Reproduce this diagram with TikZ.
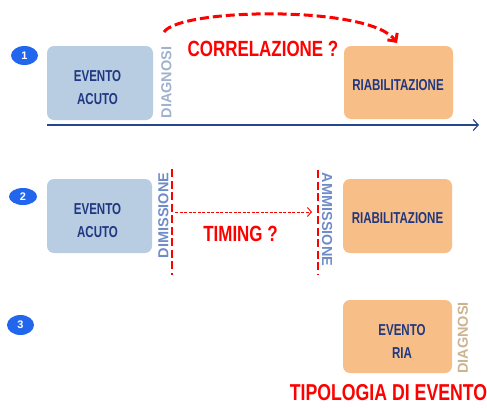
\documentclass[tikz,border=0pt]{standalone}
\usepackage{fontspec}
\setmainfont{Liberation Sans}
\newfontfamily\boxf{Liberation Sans}[FakeStretch=0.73]
\newfontfamily\redf{Liberation Sans}[FakeStretch=0.77]
\usetikzlibrary{arrows.meta,shapes.geometric}
\definecolor{boxblue}{RGB}{184,204,226}
\definecolor{boxorange}{RGB}{247,190,136}
\definecolor{navytxt}{RGB}{31,56,128}
\definecolor{diagone}{RGB}{160,178,204}
\definecolor{dimcol}{RGB}{112,140,200}
\definecolor{diagthree}{RGB}{205,180,145}
\definecolor{redc}{RGB}{255,0,0}
\definecolor{circblue}{RGB}{34,102,238}
\definecolor{axiscol}{RGB}{40,70,140}
\tikzset{
  bluebox/.style={draw=none,fill=boxblue,rounded corners=7pt,inner sep=0pt},
  orangebox/.style={draw=none,fill=boxorange,rounded corners=7pt,inner sep=0pt},
  boxtxt/.style={text=navytxt,font=\boxf\bfseries\fontsize{15.8}{23}\selectfont,align=center,inner sep=0pt},
  redtxt/.style={text=redc,font=\redf\bfseries\fontsize{22}{24}\selectfont,inner sep=0pt},
  vtxt/.style={font=\bfseries\fontsize{14.5}{16}\selectfont,inner sep=0pt},
  numcirc/.style={ellipse,fill=circblue,draw=none,inner sep=0pt,minimum width=27pt,minimum height=19pt,text=white,font=\bfseries\fontsize{11}{12}\selectfont},
  reddash/.style={draw=redc,line width=2.5pt,dash pattern=on 8pt off 3.5pt},
}
\begin{document}
\begin{tikzpicture}[x=1pt,y=-1pt]
\useasboundingbox (0,0) rectangle (487,407);
% row 1
\node[numcirc] (n1) at (24.5,55.5) {1};
\node[bluebox,minimum width=106pt,minimum height=74pt] (b1) at (100,83) {};
\node[boxtxt] (t1) at (97.5,87.5) {EVENTO\\ACUTO};
\node[vtxt,text=diagone,rotate=90] (d1) at (166.5,82.5) {DIAGNOSI};
\node[orangebox,minimum width=109pt,minimum height=73pt] (r1) at (398.5,82.5) {};
\node[boxtxt] (rt1) at (398,85) {RIABILITAZIONE};
\node[redtxt] (corr) at (263,49) {CORRELAZIONE ?};
\coordinate (cs) at (164,32);
\coordinate (ce) at (397,43);
\draw[reddash,line width=3pt,dash pattern=on 9pt off 4pt,-{Straight Barb[length=6pt,width=12pt,line width=3pt,sep=0pt]}]
  (cs) .. controls (180,8) and (370,5) .. (ce);
\coordinate (axl) at (47,125);
\coordinate (axr) at (479,125);
\draw[axiscol,line width=1.3pt,-{Straight Barb[length=5pt,width=11pt,line width=1.2pt]}] (axl) -- (axr);
% row 2
\node[numcirc,minimum width=28pt,minimum height=17pt] (n2) at (23,196.5) {2};
\node[bluebox,minimum width=105pt,minimum height=74pt] (b2) at (99.5,216) {};
\node[boxtxt] (t2) at (97.5,220.5) {EVENTO\\ACUTO};
\node[vtxt,text=dimcol,rotate=90] (dim) at (163.5,215.5) {DIMISSIONE};
\coordinate (v1t) at (172,169);
\coordinate (v1b) at (172,275);
\draw[reddash] (v1t) -- (v1b);
\coordinate (v2t) at (318,170);
\coordinate (v2b) at (318,275);
\draw[reddash] (v2t) -- (v2b);
\node[vtxt,text=dimcol,rotate=-90] (amm) at (327,219.5) {AMMISSIONE};
\node[orangebox,minimum width=109pt,minimum height=74pt] (r2) at (397.5,216) {};
\node[boxtxt] (rt2) at (397.5,218) {RIABILITAZIONE};
\coordinate (hs) at (175,212);
\coordinate (he) at (312,212);
\draw[redc,line width=0.9pt,dash pattern=on 3pt off 1.5pt,-{Straight Barb[length=4pt,width=9pt,line width=0.9pt]}] (hs) -- (he);
\node[redtxt] (tim) at (240.5,234) {TIMING ?};
% row 3
\node[numcirc,minimum height=20pt] (n3) at (20.5,325) {3};
\node[orangebox,minimum width=109pt,minimum height=73pt] (r3) at (397.5,336.5) {};
\node[boxtxt] (t3) at (402,341.5) {EVENTO\\RIA};
\node[vtxt,text=diagthree,rotate=90] (d3) at (463,338) {DIAGNOSI};
\node[redtxt,font=\redf\bfseries\fontsize{23}{24}\selectfont] (tip) at (388.5,393) {TIPOLOGIA DI EVENTO};
\end{tikzpicture}
\end{document}
